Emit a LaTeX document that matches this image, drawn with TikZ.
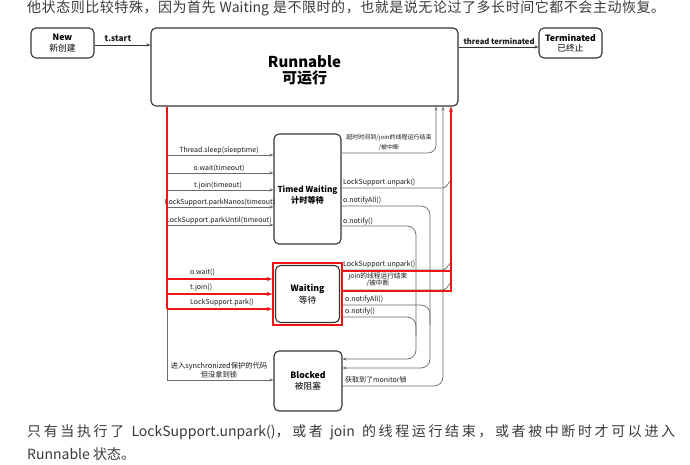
\documentclass[tikz,border=0pt]{standalone}
\usepackage{fontspec}
\setmainfont{Noto Sans CJK SC}
\usetikzlibrary{arrows.meta}
\definecolor{ln}{HTML}{6A6A6A}
\definecolor{bd}{HTML}{333333}
\definecolor{hl}{HTML}{F01414}
\definecolor{txt}{HTML}{3A3A3A}
\newcommand{\myfs}[2]{\fontsize{#1pt}{#2pt}\selectfont}
\newXeTeXintercharclass\mycjkclass
\count255="4E00
\loop
  \XeTeXcharclass\count255=\mycjkclass
  \ifnum\count255<"9FFF \advance\count255 by 1
\repeat
\XeTeXcharclass"FF0C=\mycjkclass
\XeTeXcharclass"3002=\mycjkclass
\XeTeXinterchartoks\mycjkclass\mycjkclass={\hskip 0pt plus 1pt\relax}
\XeTeXinterchartokenstate=1
\begin{document}
\begin{tikzpicture}[x=1pt,y=-1pt,
  state/.style={draw=bd,line width=1.1pt,rounded corners=5pt,fill=white,align=center,inner sep=0pt,font=\myfs{8.7}{10.5}},
  lab/.style={inner sep=0pt,font=\myfs{7}{8.5},text=black!90},
  small/.style={inner sep=0pt,font=\myfs{6}{10},text=black!90,align=center},
  conn/.style={draw=ln,line width=0.7pt},
  arr/.style={draw=ln,line width=0.7pt,-{Stealth[length=4pt,width=3pt]}},
  hlc/.style={draw=hl,line width=1.5pt},
  hla/.style={draw=hl,line width=1.5pt,-{Stealth[length=5.5pt,width=4pt]}},
  body/.style={anchor=west,inner sep=0pt,font=\myfs{14}{16},text=txt}]
\useasboundingbox (0,0) rectangle (690,465);
\fill[white] (0,0) rectangle (690,465);

% body text
\node[body] (toptext) at (27,8) {\makebox[638pt][s]{他状态则比较特殊，因为首先 Waiting 是不限时的，也就是说无论过了多长时间它都不会主动恢复。}};
\node[body] (bot1) at (27,432) {\makebox[648pt][s]{只有当执行了 LockSupport.unpark()，或者 join 的线程运行结束，或者被中断时才可以进入}};
\node[body] (bot2) at (27,454) {Runnable 状态。};

% states
\node[state,minimum width=63pt,minimum height=30pt] (new) at (62.5,43) {\textbf{New}\\新创建};
\node[state,minimum width=307pt,minimum height=78pt,font=\myfs{15}{16}\bfseries] (run) at (304.5,67) {\rule{0pt}{18pt}Runnable\\可运行};
\node[state,minimum width=63pt,minimum height=30pt] (term) at (570.5,43) {\textbf{Terminated}\\已终止};
\node[state,minimum width=67pt,minimum height=110pt,font=\myfs{8.2}{11}\bfseries] (timed) at (307.5,189) {\rule{0pt}{18pt}Timed Waiting\\计时等待};
\node[draw=hl,line width=1.5pt,minimum width=69pt,minimum height=62pt,inner sep=0pt] (wred) at (307.5,294) {};
\node[state,minimum width=64pt,minimum height=57pt,font=\myfs{8.7}{12}] (waiting) at (307.5,294) {\textbf{Waiting}\\等待};
\node[state,minimum width=68pt,minimum height=60pt,font=\myfs{8.7}{11.5}] (blocked) at (308,381) {\textbf{Blocked}\\被阻塞};

% top connectors
\draw[arr,draw=bd] (new.east |- 0,45) -- (run.west |- 0,45);
\node[lab,font=\myfs{8.3}{9}\bfseries] (lstart) at (118,39) {t.start};
\draw[arr,draw=bd] (run.east |- 0,47) -- (term.west |- 0,47);
\node[lab,font=\myfs{7.6}{9}\bfseries] (lterm) at (499,41) {thread terminated};

% left bus (gray)
\draw[arr] (run.south -| 167,0) -- (167,380) -- (blocked.west |- 0,380);
\foreach \yy in {155,173,190,207,225}
  \draw[arr] (167,\yy) -- (timed.west |- 0,\yy);
\node[lab] (l1) at (219,150) {Thread.sleep(sleeptime)};
\node[lab] (l2) at (219,168) {o.wait(timeout)};
\node[lab] (l3) at (218,185) {t.join(timeout)};
\node[lab] (l4) at (220,202) {LockSupport.parkNanos(timeout)};
\node[lab] (l5) at (219,220) {LockSupport.parkUntil(timeout)};
\node[lab,align=center,font=\myfs{7.3}{8.5}] (l6) at (219,370) {进入synchronized保护的代码\\但没拿到锁};

% left red
\draw[hlc] (run.south -| 167,0) -- (167,309);
\foreach \yy in {279,294,309}
  \draw[hla] (167,\yy) -- (wred.west |- 0,\yy);
\node[lab,anchor=west] (w1) at (190,272) {o.wait()};
\node[lab,anchor=west] (w2) at (190,287) {t.join()};
\node[lab,anchor=west] (w3) at (190,302) {LockSupport.park()};

% right side from Timed Waiting
\draw[arr,rounded corners=8pt] (timed.east |- 0,153) -- (436,153) -- (run.south -| 436,0);
\node[small] (r1) at (389,143) {超时时间到/join的线程运行结束\\/被中断};
\draw[conn,rounded corners=2pt] (timed.east |- 0,188) -- (445,188) -- (451,180);
\node[lab,anchor=west] (r2) at (343,182) {LockSupport.unpark()};
\draw[arr,rounded corners=9pt] (timed.east |- 0,206) -- (430,206) -- (430,368) -- (blocked.east |- 0,368);
\node[lab,anchor=west] (r3) at (343,200) {o.notifyAll()};
\draw[arr,rounded corners=9pt] (timed.east |- 0,226) -- (416,226) -- (416,359) -- (blocked.east |- 0,359);
\node[lab,anchor=west] (r4) at (343,221) {o.notify()};

% right side from Waiting
\draw[conn,rounded corners=2pt] (wred.east |- 0,270) -- (445,270) -- (451,262);
\draw[conn,rounded corners=2pt] (wred.east |- 0,290) -- (445,290) -- (451,282);
\node[lab,anchor=west] (r5) at (343,264) {LockSupport.unpark()};
\node[small,font=\myfs{6.7}{7.5}] (r6) at (378,280) {join的线程运行结束\\/被中断};
\draw[conn,rounded corners=9pt] (wred.east |- 0,305) -- (430,305) -- (430,325);
\node[lab,anchor=west] (r7) at (345,299) {o.notifyAll()};
\draw[conn,rounded corners=9pt] (wred.east |- 0,317) -- (416,317) -- (416,335);
\node[lab,anchor=west] (r8) at (345,311) {o.notify()};

% from Blocked
\draw[arr,rounded corners=9pt] (blocked.east |- 0,386) -- (443,386) -- (run.south -| 443,0);
\node[lab,anchor=west] (r9) at (345,380) {获取到了monitor锁};

% right red
\draw[hlc] (wred.east |- 0,271) -- (451,271);
\draw[hla] (wred.east |- 0,291) -- (451,291) -- (run.south -| 451,0);
\end{tikzpicture}
\end{document}
